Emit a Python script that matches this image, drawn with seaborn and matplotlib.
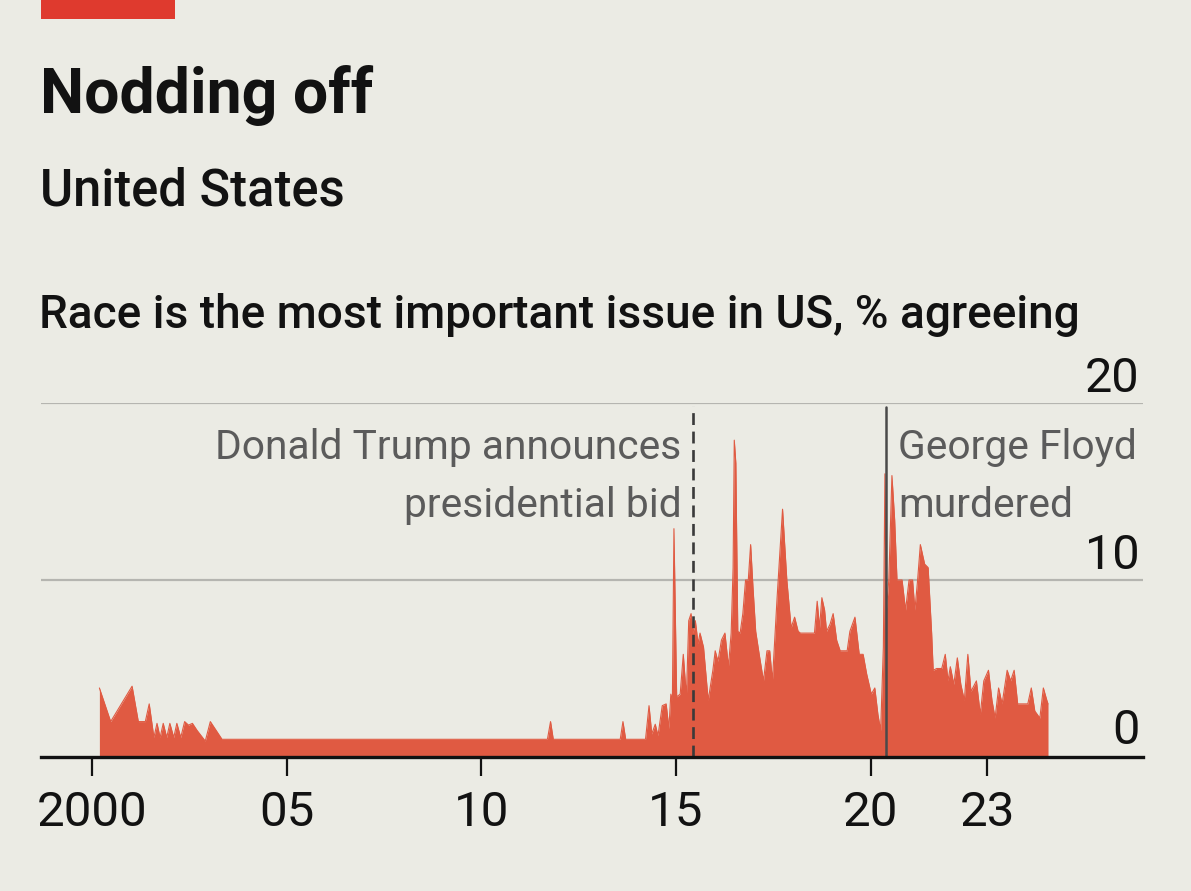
import matplotlib
matplotlib.use("Agg")
import matplotlib.pyplot as plt
import seaborn as sns

# ---------------- data ----------------
years = [2000.19, 2000.48, 2001.03, 2001.19, 2001.37, 2001.47, 2001.59, 2001.67,
         2001.75, 2001.83, 2001.92, 2002.00, 2002.10, 2002.18, 2002.28, 2002.38,
         2002.48, 2002.58, 2002.70, 2002.91, 2003.04, 2003.34, 2011.70, 2011.78,
         2011.85, 2013.57, 2013.64, 2013.71, 2014.22,
         2014.31, 2014.38, 2014.47, 2014.54, 2014.65, 2014.75, 2014.82, 2014.87,
         2014.91, 2014.95, 2015.02, 2015.11, 2015.19, 2015.27, 2015.33, 2015.39,
         2015.44, 2015.50, 2015.57, 2015.62, 2015.71, 2015.83, 2015.95, 2016.01,
         2016.08, 2016.17, 2016.26, 2016.35, 2016.42, 2016.47, 2016.50, 2016.54,
         2016.59, 2016.65, 2016.72, 2016.79, 2016.86, 2016.92, 2016.98, 2017.05,
         2017.14, 2017.25, 2017.34, 2017.41, 2017.48, 2017.60, 2017.74, 2017.85,
         2017.96, 2018.05, 2018.14, 2018.20, 2018.56, 2018.63, 2018.69, 2018.75,
         2018.82, 2018.87, 2018.96, 2019.04, 2019.13, 2019.22, 2019.40, 2019.47,
         2019.60, 2019.71, 2019.81, 2019.90, 2020.02, 2020.11, 2020.19, 2020.26,
         2020.33, 2020.37, 2020.40, 2020.47, 2020.55, 2020.62, 2020.68, 2020.81,
         2020.90, 2020.99, 2021.08, 2021.14, 2021.21, 2021.28, 2021.39, 2021.48,
         2021.57, 2021.61, 2021.70, 2021.83, 2021.92, 2021.99, 2022.05, 2022.14,
         2022.23, 2022.32, 2022.41, 2022.50, 2022.58, 2022.72, 2022.82, 2022.91,
         2023.03, 2023.12, 2023.20, 2023.29, 2023.38, 2023.51, 2023.60, 2023.69,
         2023.78, 2023.91, 2024.04, 2024.13, 2024.22, 2024.35, 2024.44, 2024.53,
         2024.56]
values = [3.9, 2.0, 4.0, 2.0, 2.0, 3.0, 1.1, 1.9,
          1.1, 1.9, 1.1, 1.9, 1.1, 1.9, 1.1, 2.0,
          1.8, 1.9, 1.5, 0.9, 2.0, 1.0, 1.0, 2.0,
          1.0, 1.0, 2.0, 1.0, 1.0,
          2.9, 1.3, 1.85, 1.2, 2.9, 3.0, 1.6, 3.55,
          3.2, 12.9, 3.4, 3.55, 5.8, 3.4, 7.7, 8.1,
          7.0, 7.7, 6.4, 7.0, 6.2, 3.2, 4.9, 6.0,
          5.4, 6.6, 7.0, 5.1, 7.0, 10.7, 17.9, 16.6,
          7.1, 7.0, 8.1, 10.0, 10.0, 12.0, 9.6, 7.1,
          5.8, 4.3, 6.0, 6.0, 4.3, 9.0, 14.0, 10.0,
          7.3, 7.9, 7.1, 7.0, 7.0, 8.8, 7.3, 9.0,
          8.3, 7.1, 7.5, 8.1, 6.6, 6.0, 6.0, 7.1,
          7.9, 5.8, 5.8, 4.7, 3.55, 3.9, 2.4, 1.5,
          6.2, 16.0, 8.1, 10.0, 15.9, 13.4, 10.0, 10.0,
          8.3, 10.0, 10.0, 8.3, 10.0, 12.0, 10.9, 10.7,
          7.0, 4.9, 5.0, 5.0, 5.8, 4.3, 5.1, 4.1,
          5.6, 4.1, 3.2, 5.8, 3.7, 4.3, 2.4, 4.3,
          4.9, 3.2, 2.2, 3.9, 3.0, 4.9, 4.3, 4.9,
          3.0, 3.0, 3.0, 3.9, 2.6, 2.2, 3.9, 3.2,
          3.0]

tick_years = [2000, 2005, 2010, 2015, 2020, 2023]
tick_labels = ["2000", "05", "10", "15", "20", "23"]
grid_values = [10, 20]
grid_labels = ["10", "20"]
events = [2015.45, 2020.39]
event_texts = ["Donald Trump announces\npresidential bid", "George Floyd\nmurdered"]

title = "Nodding off"
subtitle = "United States"
chart_label = "Race is the most important issue in US, % agreeing"

# ---------------- style ----------------
BG = "#ebebe4"
RED = "#e05a42"
BAR = "#df3a2e"
INK = "#121212"
GREY = "#5b5b5b"
GRID = "#b5b5b0"

sns.set_theme(style="white")
plt.rcParams["font.family"] = ["Roboto", "DejaVu Sans"]
NARROW = ["Roboto", "DejaVu Sans"]

W, H = 1191, 891
fig = plt.figure(figsize=(W / 100, H / 100), dpi=100, facecolor=BG)

def fx(px):
    return px / W

def fy(py):
    return 1 - py / H

# axes: x from 41 to 1143 px, y from 757 (0) to 403 (20)
ax = fig.add_axes([fx(41), fy(757), fx(1143 - 41), (757 - 403) / H])
ax.set_facecolor(BG)

for g in grid_values:
    ax.axhline(g, color=GRID, lw=1.6, zorder=1)

ax.fill_between(years, values, 0, color=RED, lw=0, zorder=2)
sns.lineplot(x=years, y=values, color=RED, lw=0.8, ax=ax, zorder=3,
             estimator=None, sort=False)

# event lines
ax.plot([events[0], events[0]], [0, 19.85], color="#3a3a3a", lw=1.9,
        ls=(0, (4.5, 2.5)), zorder=4)
ax.plot([events[1], events[1]], [0, 19.75], color="#4a4a4a", lw=1.8, zorder=4)

ax.set_xlim(1998.69, 2027.0)
ax.set_ylim(0, 20)

ax.set_xticks(tick_years)
ax.set_xticklabels(tick_labels, fontfamily=NARROW, fontsize=35.5, color=INK)
ax.tick_params(axis="x", length=14, width=1.6, color=INK, direction="out",
               pad=10, bottom=True)
ax.set_yticks([])
for s in ["top", "left", "right"]:
    ax.spines[s].set_visible(False)
ax.spines["bottom"].set_linewidth(2.4)
ax.spines["bottom"].set_color(INK)
ax.spines["bottom"].set_zorder(5)

# y labels sitting above gridlines, right-aligned
ytr = ax.get_yaxis_transform()
for g, lab in zip(grid_values, grid_labels):
    ax.text(0.997, g + 0.6, lab, transform=ytr, ha="right", va="baseline",
            fontfamily=NARROW, fontsize=35, color=INK)
ax.text(0.997, 0.75, "0", transform=ytr, ha="right", va="baseline",
        fontfamily=NARROW, fontsize=35, color=INK)

# annotations
l1, l2 = event_texts[0].split("\n")
ax.text(events[0] - 0.3, 16.85, l1, ha="right", va="baseline",
        fontfamily=NARROW, fontsize=29.3, color=GREY)
ax.text(events[0] - 0.3, 13.55, l2, ha="right", va="baseline",
        fontfamily=NARROW, fontsize=29.3, color=GREY)
f1, f2 = event_texts[1].split("\n")
ax.text(events[1] + 0.32, 16.85, f1, ha="left", va="baseline",
        fontfamily=NARROW, fontsize=29.3, color=GREY)
ax.text(events[1] + 0.32, 13.55, f2, ha="left", va="baseline",
        fontfamily=NARROW, fontsize=29.3, color=GREY)

# header
fig.patches.append(plt.Rectangle((fx(41), fy(19)), fx(175 - 41), 19 / H,
                                 transform=fig.transFigure, color=BAR, lw=0))
fig.text(fx(40), fy(113), title, fontsize=45, fontweight="bold", color=INK,
         va="baseline", ha="left")
fig.text(fx(40), fy(205), subtitle, fontsize=36.5, fontweight="medium", color=INK,
         va="baseline", ha="left")
fig.text(fx(39), fy(328), chart_label, fontsize=33.1, fontweight="medium",
         color=INK, va="baseline", ha="left")

fig.savefig("out.png", dpi=100, facecolor=BG)
